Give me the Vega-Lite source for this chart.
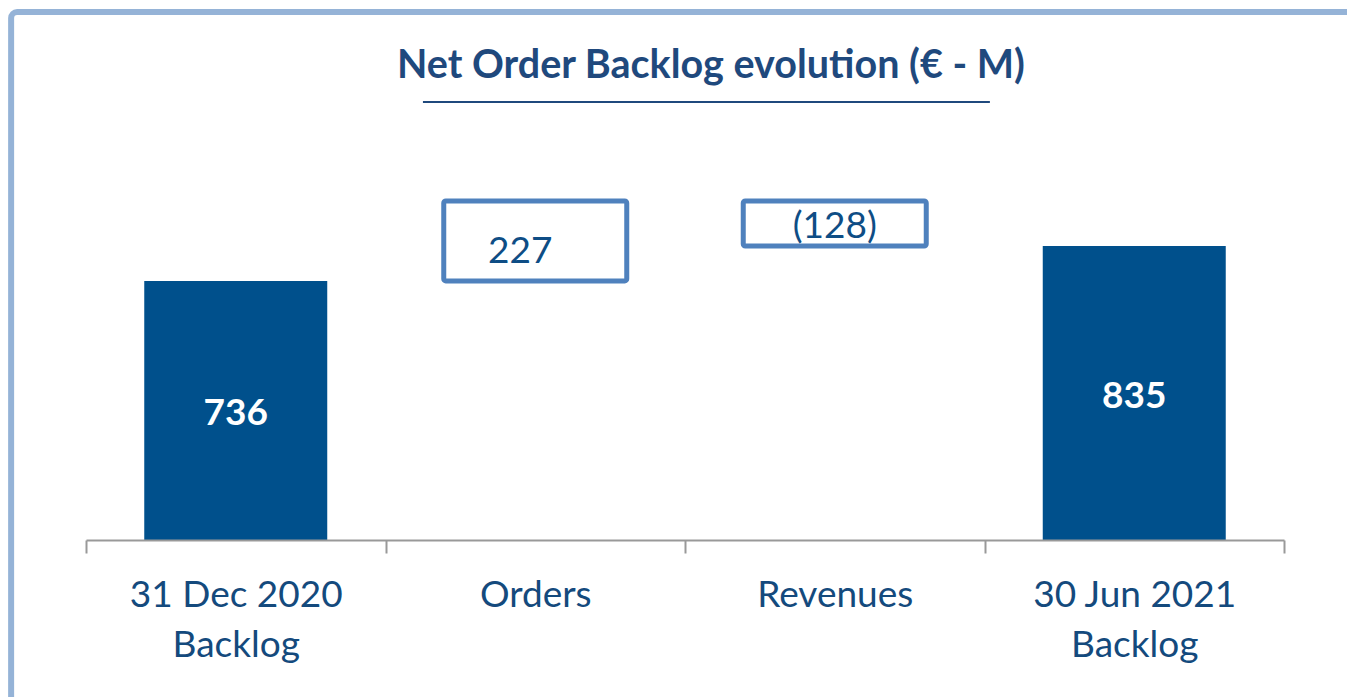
{
  "$schema": "https://vega.github.io/schema/vega-lite/v6.json",
  "width": 1198,
  "height": 440,
  "autosize": {"type": "none"},
  "padding": {"left": 86, "top": 100, "right": 63, "bottom": 157},
  "background": "white",
  "config": {"view": {"stroke": null}, "font": "Lato"},
  "title": {
    "text": "Net Order Backlog evolution (€ - M)",
    "font": "Lato",
    "fontSize": 39.5,
    "fontWeight": "bold",
    "color": "#1F497D",
    "anchor": "middle",
    "dx": 26,
    "dy": 130,
    "offset": 22,
    "baseline": "alphabetic"
  },
  "datasets": {
    "steps": [
      {"step": "31 Dec 2020 Backlog", "type": "total", "start": 0, "end": 736, "label": "736"},
      {"step": "Orders", "type": "delta", "start": 736, "end": 963, "label": "227"},
      {"step": "Revenues", "type": "delta", "start": 963, "end": 835, "label": "(128)"},
      {"step": "30 Jun 2021 Backlog", "type": "total", "start": 0, "end": 835, "label": "835"}
    ]
  },
  "data": {"name": "steps"},
  "layer": [
    {
      "data": {"values": [{"frame": 1}]},
      "mark": {"type": "rect", "filled": false, "stroke": "#95B3D7", "strokeWidth": 6, "cornerRadius": 6},
      "encoding": {
        "x": {"datum": "31 Dec 2020 Backlog", "type": "nominal", "bandPosition": -0.25, "title": null},
        "x2": {"datum": "30 Jun 2021 Backlog", "bandPosition": 2},
        "y": {"datum": 1500, "type": "quantitative", "axis": null},
        "y2": {"datum": -600}
      }
    },
    {
      "transform": [{"filter": "datum.type == 'total'"}],
      "mark": {"type": "bar", "fill": "#00508C", "width": {"band": 0.611}},
      "encoding": {
        "x": {
          "field": "step",
          "type": "nominal",
          "sort": null,
          "title": null,
          "scale": {
            "domain": ["31 Dec 2020 Backlog", "Orders", "Revenues", "30 Jun 2021 Backlog"],
            "paddingInner": 0,
            "paddingOuter": 0
          },
          "axis": {
            "title": null,
            "domainColor": "#999999",
            "domainWidth": 2,
            "tickColor": "#999999",
            "tickWidth": 2,
            "tickSize": 13,
            "tickBand": "extent",
            "labelFont": "Lato",
            "labelFontSize": 37,
            "labelColor": "#144A7D",
            "labelPadding": 24,
            "labelLineHeight": 50,
            "labelAngle": 0,
            "labelAlign": "center",
            "labelLimit": 0,
            "labelBaseline": "top",
            "labelExpr": "indexof(datum.label, ' Backlog') > 0 ? [replace(datum.label, ' Backlog', ''), 'Backlog'] : datum.label"
          }
        },
        "y": {"field": "start", "type": "quantitative", "scale": {"domain": [0, 1250], "nice": false, "zero": false}, "axis": null},
        "y2": {"field": "end"}
      }
    },
    {
      "transform": [{"filter": "datum.type == 'delta'"}],
      "mark": {"type": "bar", "fill": "white", "stroke": "#4F81BD", "strokeWidth": 5, "cornerRadius": 2, "width": {"band": 0.611}},
      "encoding": {
        "x": {"field": "step", "type": "nominal", "sort": null, "title": null},
        "y": {"field": "start", "type": "quantitative", "axis": null},
        "y2": {"field": "end"}
      }
    },
    {
      "data": {"values": [{"underline": 1}]},
      "mark": {"type": "rule", "stroke": "#1F497D", "strokeWidth": 2},
      "encoding": {
        "x": {"datum": "Orders", "type": "nominal", "bandPosition": 0.125, "title": null},
        "x2": {"datum": "Revenues", "bandPosition": 1.018},
        "y": {"datum": 1244, "type": "quantitative", "axis": null}
      }
    },
    {
      "transform": [
        {"filter": "datum.type == 'total'"},
        {"fold": ["start", "end"], "as": ["k", "v"]},
        {"aggregate": [{"op": "mean", "field": "v", "as": "mid"}], "groupby": ["step", "label"]}
      ],
      "mark": {"type": "text", "font": "Lato", "fontSize": 37, "fontWeight": "bold", "color": "white", "baseline": "middle", "align": "center", "dy": 4},
      "encoding": {
        "x": {"field": "step", "type": "nominal", "sort": null, "title": null},
        "y": {"field": "mid", "type": "quantitative", "axis": null},
        "text": {"field": "label"}
      }
    },
    {
      "transform": [
        {"filter": "datum.step == 'Orders'"},
        {"fold": ["start", "end"], "as": ["k", "v"]},
        {"aggregate": [{"op": "mean", "field": "v", "as": "mid"}], "groupby": ["step", "label"]}
      ],
      "mark": {"type": "text", "font": "Lato", "fontSize": 37, "color": "#0E4D85", "baseline": "middle", "align": "center", "dy": 11, "dx": -15},
      "encoding": {
        "x": {"field": "step", "type": "nominal", "sort": null, "title": null},
        "y": {"field": "mid", "type": "quantitative", "axis": null},
        "text": {"field": "label"}
      }
    },
    {
      "transform": [
        {"filter": "datum.step == 'Revenues'"},
        {"fold": ["start", "end"], "as": ["k", "v"]},
        {"aggregate": [{"op": "mean", "field": "v", "as": "mid"}], "groupby": ["step", "label"]}
      ],
      "mark": {"type": "text", "font": "Lato", "fontSize": 37, "color": "#0E4D85", "baseline": "middle", "align": "center", "dy": 3},
      "encoding": {
        "x": {"field": "step", "type": "nominal", "sort": null, "title": null},
        "y": {"field": "mid", "type": "quantitative", "axis": null},
        "text": {"field": "label"}
      }
    }
  ]
}
